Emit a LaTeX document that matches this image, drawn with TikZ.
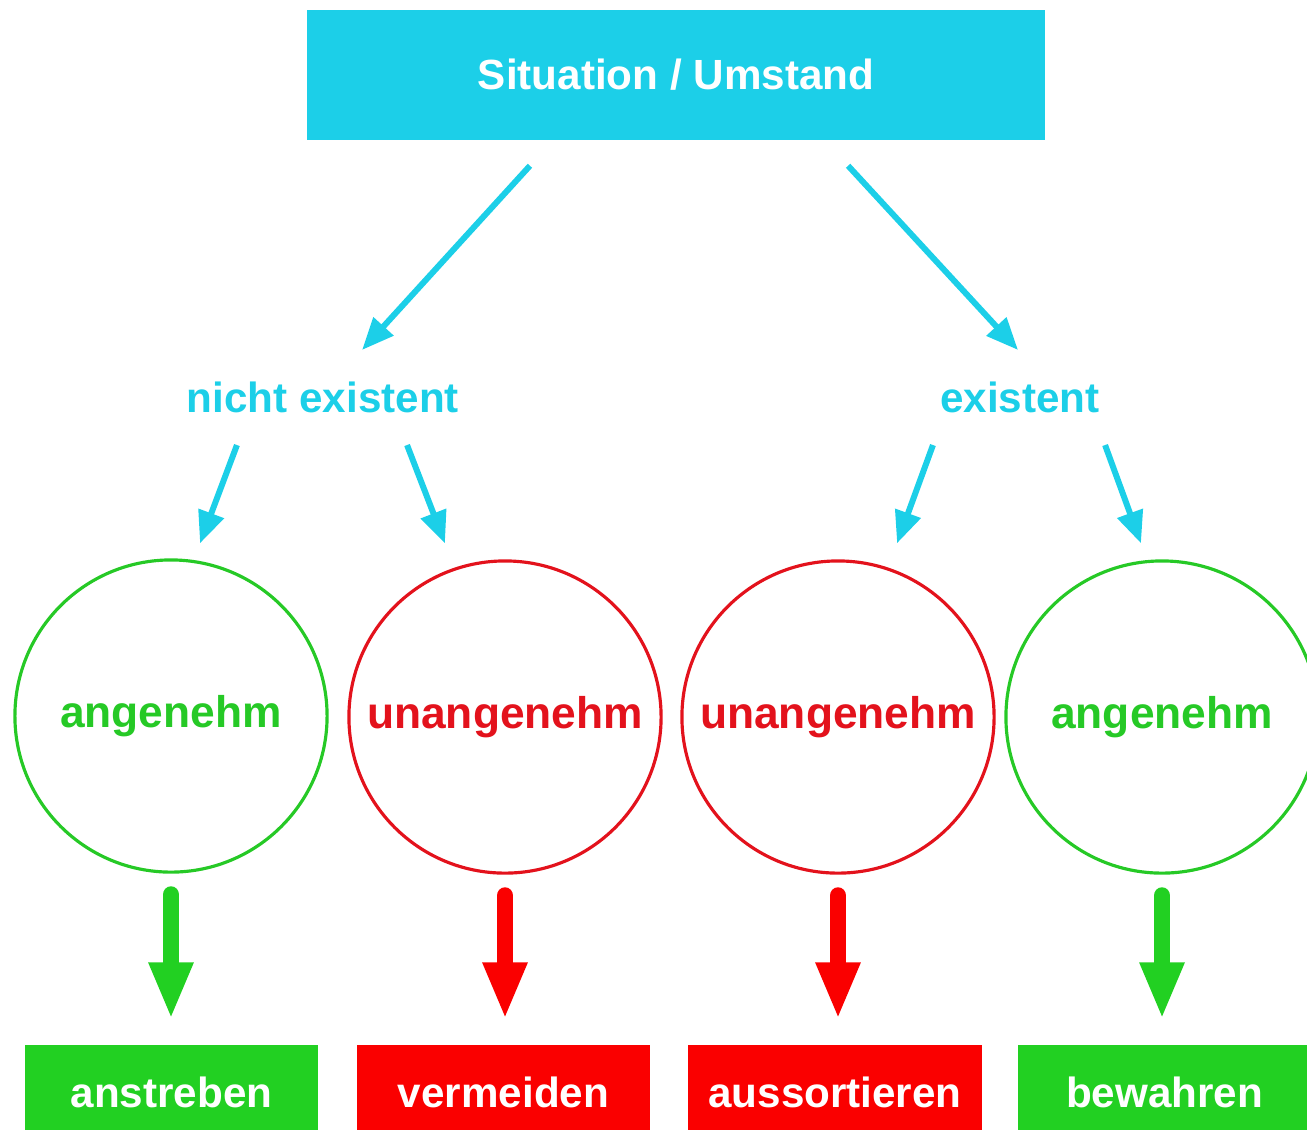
\documentclass[tikz,border=0pt]{standalone}
\usepackage{fontspec}
\setmainfont{Liberation Sans}
\usepackage{tikz}
\usetikzlibrary{shapes, shapes.geometric, arrows, arrows.meta, positioning}

\definecolor{headcyan}{HTML}{1CCFE8}
\definecolor{goodgreen}{HTML}{26C926}
\definecolor{badred}{HTML}{E3121C}
\definecolor{boxgreen}{HTML}{22D022}
\definecolor{boxred}{HTML}{FA0000}

\begin{document}
\begin{tikzpicture}[
  x=0.01cm, y=-0.01cm,
  font=\fontsize{12}{14}\selectfont\bfseries,
  head/.style={rectangle, fill=headcyan, text=white, minimum width=7.38cm, minimum height=1.3cm},
  branch/.style={text=headcyan},
  feel/.style={circle, draw, line width=0.9pt, minimum size=3.12cm, font=\fontsize{12.6}{15}\selectfont\bfseries},
  good/.style={feel, draw=goodgreen, text=goodgreen},
  bad/.style={feel, draw=badred, text=badred},
  result/.style={rectangle, text=white, minimum width=2.93cm, minimum height=0.95cm},
  thinarrow/.style={draw=headcyan, line width=1.7pt, -{Triangle[length=3.2mm,width=2.6mm]}},
  fatarrow/.style={line width=4.8pt, line cap=round, -{Triangle[length=5.7mm,width=4.1mm]}}
]
  \useasboundingbox (0,0) rectangle (1307,1129);

  \node[head] (top) at (676,75) {Situation / Umstand};

  \node[branch] (nichtex) at (323,397) {nicht existent};
  \node[branch] (ex) at (1020,397) {existent};

  \node[good] (c1) at (171,716) {angenehm};
  \node[bad]  (c2) at (505,717) {unangenehm};
  \node[bad]  (c3) at (838,717) {unangenehm};
  \node[good] (c4) at (1162,717) {angenehm};

  \node[result, fill=boxgreen] (b1) at (171.5,1092.5) {anstreben};
  \node[result, fill=boxred]   (b2) at (503.5,1092.5) {vermeiden};
  \node[result, fill=boxred]   (b3) at (835,1092.5) {aussortieren};
  \node[result, fill=boxgreen] (b4) at (1164.5,1092.5) {bewahren};

  % cyan arrows
  \draw[thinarrow] ([xshift=-1.46cm,yshift=-0.25cm]top.south) -- ([xshift=0.39cm,yshift=0.47cm]nichtex.center);
  \draw[thinarrow] ([xshift=1.72cm,yshift=-0.25cm]top.south) -- ([xshift=-0.02cm,yshift=0.47cm]ex.center);
  \draw[thinarrow] ([xshift=-0.86cm,yshift=-0.48cm]nichtex.center) -- ([xshift=0.29cm,yshift=0.15cm]c1.north);
  \draw[thinarrow] ([xshift=0.84cm,yshift=-0.48cm]nichtex.center) -- ([xshift=-0.6cm,yshift=0.16cm]c2.north);
  \draw[thinarrow] ([xshift=-0.87cm,yshift=-0.48cm]ex.center) -- ([xshift=0.59cm,yshift=0.16cm]c3.north);
  \draw[thinarrow] ([xshift=0.85cm,yshift=-0.48cm]ex.center) -- ([xshift=-0.21cm,yshift=0.16cm]c4.north);

  % big arrows
  \draw[fatarrow, draw=boxgreen, fill=boxgreen] ([yshift=-0.21cm]c1.south) -- ([yshift=0.25cm]c1.south |- b1.north);
  \draw[fatarrow, draw=boxred, fill=boxred] ([yshift=-0.21cm]c2.south) -- ([yshift=0.25cm]c2.south |- b2.north);
  \draw[fatarrow, draw=boxred, fill=boxred] ([yshift=-0.21cm]c3.south) -- ([yshift=0.25cm]c3.south |- b3.north);
  \draw[fatarrow, draw=boxgreen, fill=boxgreen] ([yshift=-0.21cm]c4.south) -- ([yshift=0.25cm]c4.south |- b4.north);
\end{tikzpicture}
\end{document}
